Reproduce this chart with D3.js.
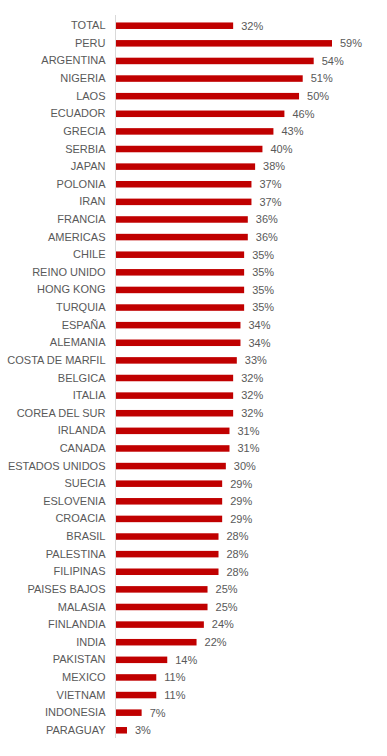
<!DOCTYPE html>
<html>
<head>
<meta charset="utf-8">
<script src="https://cdn.jsdelivr.net/npm/d3@7"></script>
<style>
  body { margin: 0; background: #fff; }
  .cat { font-family: "Liberation Sans", Arial, sans-serif; font-size: 11px; fill: #595959; }
  .val { font-family: "Liberation Sans", Arial, sans-serif; font-size: 11px; fill: #595959; }
</style>
</head>
<body>
<div id="chart"></div>
<script>
// Values
var countries = ["TOTAL", "PERU", "ARGENTINA", "NIGERIA", "LAOS", "ECUADOR", "GRECIA", "SERBIA",
  "JAPAN", "POLONIA", "IRAN", "FRANCIA", "AMERICAS", "CHILE", "REINO UNIDO", "HONG KONG",
  "TURQUIA", "ESPAÑA", "ALEMANIA", "COSTA DE MARFIL", "BELGICA", "ITALIA", "COREA DEL SUR",
  "IRLANDA", "CANADA", "ESTADOS UNIDOS", "SUECIA", "ESLOVENIA", "CROACIA", "BRASIL",
  "PALESTINA", "FILIPINAS", "PAISES BAJOS", "MALASIA", "FINLANDIA", "INDIA", "PAKISTAN",
  "MEXICO", "VIETNAM", "INDONESIA", "PARAGUAY"];
var percents = [32, 59, 54, 51, 50, 46, 43, 40, 38, 37, 37, 36, 36, 35, 35, 35, 35, 34, 34, 33,
  32, 32, 32, 31, 31, 30, 29, 29, 29, 28, 28, 28, 25, 25, 24, 22, 14, 11, 11, 7, 3];

var svgWidth = 387;
var svgHeight = 756;

var svg = d3.select("#chart")
  .append("svg")
  .attr("width", svgWidth)
  .attr("height", svgHeight);

var data = countries.map(function(c, i) { return {name: c, value: percents[i]}; });

// Scales
var xScale = d3.scaleLinear()
  .domain([0, 59])
  .range([116, 332]);

var yScale = d3.scaleBand()
  .domain(countries)
  .range([17, 739])
  .paddingInner(0.63)
  .paddingOuter(0.31);

// vertical axis line
var yAxis = d3.axisLeft(yScale).tickSize(0).tickPadding(10);
var axisG = svg.append("g")
  .attr("transform", "translate(115.5,0)")
  .call(yAxis);
axisG.select(".domain").attr("stroke", "#d9d9d9").attr("d", "M0,15V738");
axisG.selectAll("text").attr("class", "cat").attr("fill", null);

// Bars
svg.selectAll("rect.bar")
  .data(data)
  .enter()
  .append("rect")
  .attr("class", "bar")
  .attr("x", xScale(0))
  .attr("y", d => yScale(d.name))
  .attr("width", d => xScale(d.value) - xScale(0))
  .attr("height", yScale.bandwidth())
  .attr("fill", "#c00000");

// Value labels
svg.selectAll("text.val")
  .data(data)
  .enter()
  .append("text")
  .attr("class", "val")
  .attr("x", d => xScale(d.value) + 8)
  .attr("y", d => yScale(d.name) + yScale.bandwidth() / 2)
  .attr("dy", "0.35em")
  .text(d => d.value + "%");
</script>
</body>
</html>
